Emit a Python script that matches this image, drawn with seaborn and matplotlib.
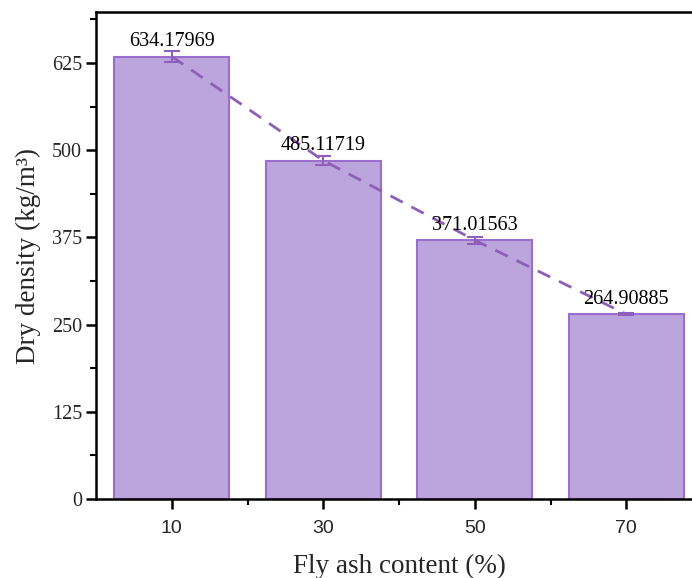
import matplotlib
matplotlib.use("Agg")
import matplotlib.pyplot as plt
import seaborn as sns
import numpy as np
import pandas as pd
from matplotlib.ticker import MultipleLocator, FixedLocator

categories = ["10", "30", "50", "70"]
values = [634.17969, 485.11719, 371.01563, 264.90885]
errors = [7.5, 6.0, 5.0, 1.2]
labels = ["634.17969", "485.11719", "371.01563", "264.90885"]
yticks = [0, 125, 250, 375, 500, 625]

sns.set_theme(style="ticks")
plt.rcParams["font.family"] = ["Liberation Serif", "DejaVu Serif"]

fig = plt.figure(figsize=(6.92, 5.78), dpi=100)
ax = fig.add_axes([96/692, 79/578, 606/692, 487/578])

df = pd.DataFrame({"x": categories, "y": values})
sns.barplot(data=df, x="x", y="y", ax=ax, color="#bca4dc", width=0.76,
            edgecolor="#9a6ecf", linewidth=1.5, saturation=1)

pos = np.arange(len(categories))
ax.errorbar(pos, values, yerr=errors, fmt="none", ecolor="#8f5fc0",
            elinewidth=1.5, capsize=6, capthick=1.5, zorder=4)
ax.plot(pos, values, linestyle=(0, (5, 3.5)), color="#8f5fb8", linewidth=2, zorder=5)

for p, v, t in zip(pos, values, labels):
    ax.text(p, v + 8, t, ha="center", va="bottom", fontsize=14.5,
            family=["Liberation Serif"], color="black", zorder=6)

ax.set_xlim(-0.5, 3.5)
ax.set_ylim(0, 698)
ax.set_yticks(yticks, [str(t) for t in yticks], fontfamily="Liberation Serif", fontsize=14.5)
ax.yaxis.set_minor_locator(MultipleLocator(62.5))
ax.set_xticks(pos, categories, fontfamily="Liberation Sans", fontsize=14)
ax.xaxis.set_minor_locator(FixedLocator([0.5, 1.5, 2.5]))

for s in ["top", "right", "left", "bottom"]:
    ax.spines[s].set_linewidth(1.8)
    ax.spines[s].set_color("black")
ax.spines["right"].set_visible(False)

ax.tick_params(axis="both", which="major", direction="out", length=7, width=1.8, color="black")
ax.tick_params(axis="both", which="minor", direction="out", length=4, width=1.5, color="black")
ax.tick_params(axis="y", pad=3)
ax.tick_params(axis="x", pad=8)

ax.set_xlabel("Fly ash content (%)", fontsize=19.5, labelpad=12)
ax.set_ylabel("Dry density (kg/m³)", fontsize=19.5, labelpad=8)

fig.savefig("out.png", dpi=100)
